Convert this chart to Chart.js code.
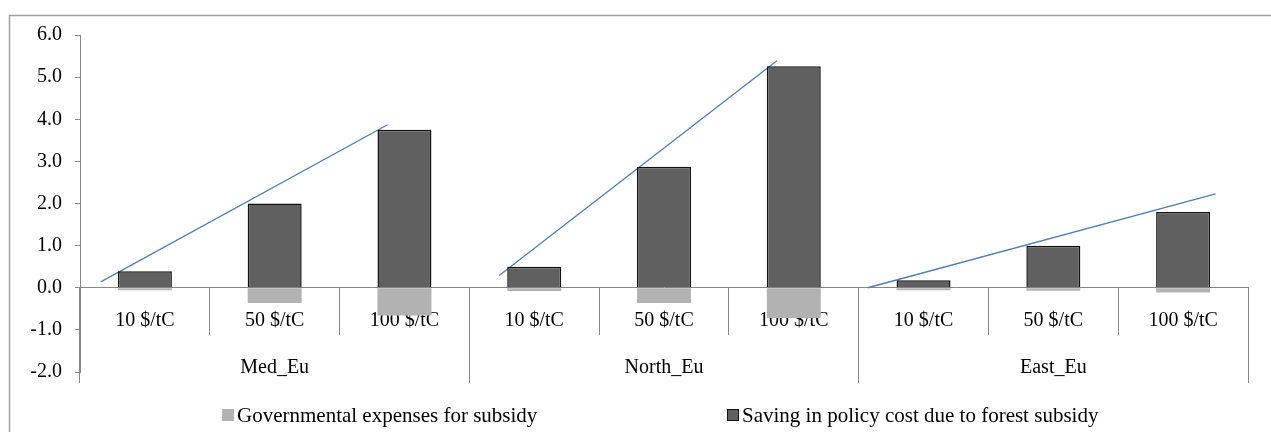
<!DOCTYPE html>
<html>
<head>
<meta charset="utf-8">
<script src="https://cdn.jsdelivr.net/npm/chart.js@4.4.1/dist/chart.umd.min.js"></script>
<style>
body{margin:0;background:#fff;overflow:hidden}
#caixa{position:relative;width:1271px;height:432px}
</style>
</head>
<body>
<div id="caixa"><canvas id="grafico"></canvas></div>
<script>
// categorias e grupos
const precos = ["10 $/tC","50 $/tC","100 $/tC","10 $/tC","50 $/tC","100 $/tC","10 $/tC","50 $/tC","100 $/tC"]
const regioes = ["Med_Eu","North_Eu","East_Eu"]

// valores
const despesas = [-0.06,-0.36,-0.66,-0.08,-0.36,-0.72,-0.06,-0.07,-0.11]
const economia = [0.39,2.0,3.75,0.5,2.87,5.26,0.18,1.0,1.8]

// linhas de tendencia (x em unidades de categoria, y em valor)
const tendMed = [{x:-0.34,y:0.14},{x:1.87,y:3.87}]
const tendNorth = [{x:2.73,y:0.29},{x:4.87,y:5.39}]
const tendEast = [{x:5.57,y:0.0},{x:8.25,y:2.23}]

const fonte = "'Liberation Serif', 'Times New Roman', serif"
const cinzaEixo = "#868686"

const moldura = {
  id: "moldura",
  beforeDraw(chart){
    const c = chart.ctx
    c.save()
    c.fillStyle = "#fff"
    c.fillRect(0,0,chart.width,chart.height)
    c.strokeStyle = "#a0a0a0"
    c.lineWidth = 1.5
    c.strokeRect(9.5,15.5,1300,500)
    c.restore()
  }
}

const legenda = {
  id: "legenda",
  afterDraw(chart){
    const c = chart.ctx
    const y = 415
    const inicio = 222
    const passo = 505
    c.save()
    c.font = "21px " + fonte
    c.textBaseline = "middle"
    c.textAlign = "left"
    chart.data.datasets.slice(0,2).forEach((ds,i)=>{
      const x = inicio + i*passo
      c.fillStyle = ds.backgroundColor
      c.fillRect(x, y-6, 12, 12)
      if(ds.borderWidth){
        c.strokeStyle = ds.borderColor
        c.lineWidth = 1
        c.strokeRect(x+0.5, y-5.5, 11, 11)
      }
      c.fillStyle = "#000"
      c.fillText(ds.label, x+15, y+1)
    })
    c.restore()
  }
}

function linhaTend(pontos){
  return {
    type: "line",
    label: "tendencia",
    data: pontos,
    xAxisID: "xt",
    borderColor: "#4a7ebb",
    borderWidth: 1.3,
    pointRadius: 0,
    fill: false,
    tension: 0
  }
}

const ctx = document.getElementById("grafico").getContext("2d")

const grafico = new Chart(ctx, {
  type: "bar",
  data: {
    labels: precos,
    datasets: [
      {
        label: "Governmental expenses for subsidy",
        data: despesas,
        backgroundColor: "#b2b2b2",
        borderWidth: 0,
        grouped: false,
        categoryPercentage: 1,
        barPercentage: 0.416
      },
      {
        label: "Saving in policy cost due to forest subsidy",
        data: economia,
        backgroundColor: "#606060",
        borderColor: "#111",
        borderWidth: 1.5,
        grouped: false,
        categoryPercentage: 1,
        barPercentage: 0.416
      },
      linhaTend(tendMed),
      linhaTend(tendNorth),
      linhaTend(tendEast)
    ]
  },
  options: {
    responsive: true,
    maintainAspectRatio: false,
    animation: false,
    layout: {
      padding: {top: 35, right: 23, bottom: 60, left: 0}
    },
    plugins: {
      legend: {display: false},
      tooltip: {enabled: false}
    },
    scales: {
      y: {
        min: -2,
        max: 6,
        afterFit(eixo){ eixo.width = 80 },
        ticks: {
          stepSize: 1,
          color: "#000",
          padding: 13,
          font: {family: fonte, size: 20},
          callback: v => v.toFixed(1)
        },
        grid: {drawOnChartArea: false, tickLength: 5, color: cinzaEixo},
        border: {color: cinzaEixo}
      },
      x: {
        type: "category",
        position: {y: 0},
        offset: true,
        z: 1,
        afterFit(eixo){ eixo.height = 0 },
        ticks: {
          color: "#000",
          padding: -26,
          maxRotation: 0,
          autoSkip: false,
          font: {family: fonte, size: 20}
        },
        grid: {offset: true, drawOnChartArea: false, tickLength: 47, color: cinzaEixo},
        border: {color: cinzaEixo}
      },
      x2: {
        type: "category",
        labels: regioes,
        position: {y: 0},
        offset: true,
        z: 1,
        afterFit(eixo){ eixo.height = 0 },
        ticks: {
          color: "#000",
          padding: -27,
          maxRotation: 0,
          autoSkip: false,
          font: {family: fonte, size: 20}
        },
        grid: {offset: true, drawOnChartArea: false, tickLength: 95, color: cinzaEixo},
        border: {display: false}
      },
      xt: {
        type: "linear",
        min: -0.5,
        max: 8.5,
        offset: false,
        display: false
      }
    }
  },
  plugins: [moldura, legenda]
})
</script>
</body>
</html>
